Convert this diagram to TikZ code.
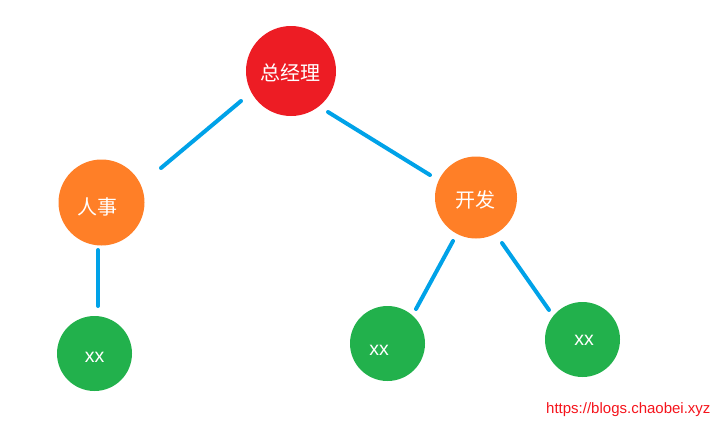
\documentclass[tikz,border=0pt]{standalone}
\usepackage{fontspec}
\setmainfont{Liberation Sans}
\newfontfamily\cjk{Noto Sans CJK SC}
\usetikzlibrary{calc}
\definecolor{cRed}{HTML}{ED1C24}
\definecolor{cOrange}{HTML}{FF7F27}
\definecolor{cGreen}{HTML}{22B14C}
\definecolor{cBlue}{HTML}{00A2E8}
\definecolor{cMark}{HTML}{F5141C}
\tikzset{
  ball/.style={circle, inner sep=0pt, minimum size=#1},
  boss/.style={ball=90pt, fill=cRed},
  dept/.style={ball=86pt, fill=cOrange},
  leaf/.style={ball=75pt, fill=cGreen},
  cjklab/.style={text=white, font=\cjk\fontsize{20}{24}\selectfont},
  latlab/.style={text=white, font=\fontsize{19.5}{23}\selectfont},
  conn/.style={draw=cBlue, line width=4pt, line cap=round},
}
\begin{document}
\begin{tikzpicture}[x=1pt, y=-1pt]
\useasboundingbox (0,0) rectangle (725,429);
\node[boss] (gm) at (291,71) {};
\node[cjklab] at ($(gm)+(-1,2)$) {总经理};
\node[dept] (hr) at (101.5,202.5) {};
\node[cjklab] at ($(hr)+(-4.5,4.5)$) {人事};
\node[dept, minimum size=82pt] (dev) at (476,197.5) {};
\node[cjklab] at ($(dev)+(-1,2.5)$) {开发};
\node[leaf] (x1) at (94.5,353.5) {};
\node[latlab] at ($(x1)+(0,3.5)$) {xx};
\node[leaf] (x2) at (387.5,343.5) {};
\node[latlab] at ($(x2)+(-8.5,6.5)$) {xx};
\node[leaf] (x3) at (582.5,339.5) {};
\node[latlab] at ($(x3)+(1.5,0.5)$) {xx};
\coordinate (a1) at ($(gm)+(-50,30)$);
\coordinate (a2) at ($(hr)+(59.5,-34.5)$);
\coordinate (b1) at ($(gm)+(37,41)$);
\coordinate (b2) at ($(dev)+(-46,-22.5)$);
\coordinate (c1) at ($(hr)+(-3.5,47.5)$);
\coordinate (c2) at ($(x1)+(3.5,-47.5)$);
\coordinate (d1) at ($(dev)+(-23,43.5)$);
\coordinate (d2) at ($(x2)+(28.5,-34.5)$);
\coordinate (e1) at ($(dev)+(26,45.5)$);
\coordinate (e2) at ($(x3)+(-33.5,-29.5)$);
\draw[conn] (a1) -- (a2);
\draw[conn] (b1) -- (b2);
\draw[conn] (c1) -- (c2);
\draw[conn] (d1) -- (d2);
\draw[conn] (e1) -- (e2);
\node[text=cMark, font=\fontsize{15}{18}\selectfont, anchor=east] (wm) at (714,410) {https://blogs.chaobei.xyz};
\end{tikzpicture}
\end{document}
